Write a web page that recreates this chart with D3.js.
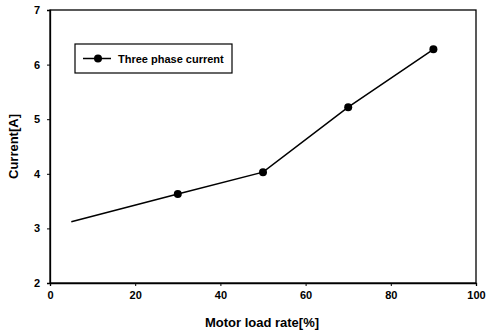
<!DOCTYPE html>
<html><head><meta charset="utf-8">
<script src="https://cdn.jsdelivr.net/npm/d3@7"></script>
<style>body{margin:0;background:#fff}svg{display:block}text{font-family:"Liberation Sans",Arial,sans-serif;fill:#000}</style>
</head><body><svg id="c" width="487" height="333"></svg>
<script>
const loadRate = [5, 30, 50, 70, 90];
const current = [3.12, 3.63, 4.03, 5.22, 6.28];
const markerShown = [false, true, true, true, true];
const xTicks = [0, 20, 40, 60, 80, 100];
const yTicks = [2, 3, 4, 5, 6, 7];
const seriesName = "Three phase current";

const svg = d3.select("#c");
const m = {l: 50, r: 476, t: 10, b: 283};
const x = d3.scaleLinear().domain([0, 100]).range([m.l, m.r]);
const y = d3.scaleLinear().domain([2, 7]).range([m.b, m.t]);

// frame
svg.append("rect").attr("x", m.l).attr("y", m.t).attr("width", m.r - m.l).attr("height", m.b - m.t)
  .attr("fill", "none").attr("stroke", "#000").attr("stroke-width", 1.3);

const xa = svg.append("g").attr("transform", `translate(0,${m.b})`)
  .call(d3.axisBottom(x).tickValues(xTicks).tickFormat(d3.format("d")).tickSize(3).tickPadding(5));
const ya = svg.append("g").attr("transform", `translate(${m.l},0)`)
  .call(d3.axisLeft(y).tickValues(yTicks).tickFormat(d3.format("d")).tickSize(3).tickPadding(7));
[xa, ya].forEach(a => {
  a.select(".domain").attr("stroke", "#000").attr("stroke-width", 1.3);
  a.selectAll("line").attr("stroke", "#000");
  a.selectAll("text").attr("font-size", 11).attr("font-weight", "bold")
    .attr("font-family", "Liberation Sans, Arial, sans-serif").attr("fill", "#000");
});

const pts = loadRate.map((d, i) => ({x: d, y: current[i], m: markerShown[i]}));
svg.append("path").datum(pts)
  .attr("d", d3.line().x(d => x(d.x)).y(d => y(d.y)))
  .attr("fill", "none").attr("stroke", "#000").attr("stroke-width", 1.5);
svg.selectAll("circle.pt").data(pts.filter(d => d.m)).enter().append("circle")
  .attr("class", "pt").attr("cx", d => x(d.x)).attr("cy", d => y(d.y)).attr("r", 4).attr("fill", "#000");

// legend
const lg = svg.append("g");
lg.append("rect").attr("x", 75).attr("y", 44).attr("width", 157).attr("height", 29)
  .attr("fill", "#fff").attr("stroke", "#000").attr("stroke-width", 1.2);
lg.append("line").attr("x1", 83).attr("x2", 111).attr("y1", 58.5).attr("y2", 58.5)
  .attr("stroke", "#000").attr("stroke-width", 1.5);
lg.append("circle").attr("cx", 98).attr("cy", 58.5).attr("r", 4).attr("fill", "#000");
lg.append("text").attr("x", 118).attr("y", 62.5).attr("font-size", 11).attr("font-weight", "bold").text(seriesName);

// axis titles
svg.append("text").attr("x", 262).attr("y", 327).attr("text-anchor", "middle")
  .attr("font-size", 13).attr("font-weight", "bold").text("Motor load rate[%]");
svg.append("text").attr("transform", `translate(18,${(m.t + m.b) / 2}) rotate(-90)`)
  .attr("text-anchor", "middle").attr("font-size", 13).attr("font-weight", "bold").text("Current[A]");
</script></body></html>
